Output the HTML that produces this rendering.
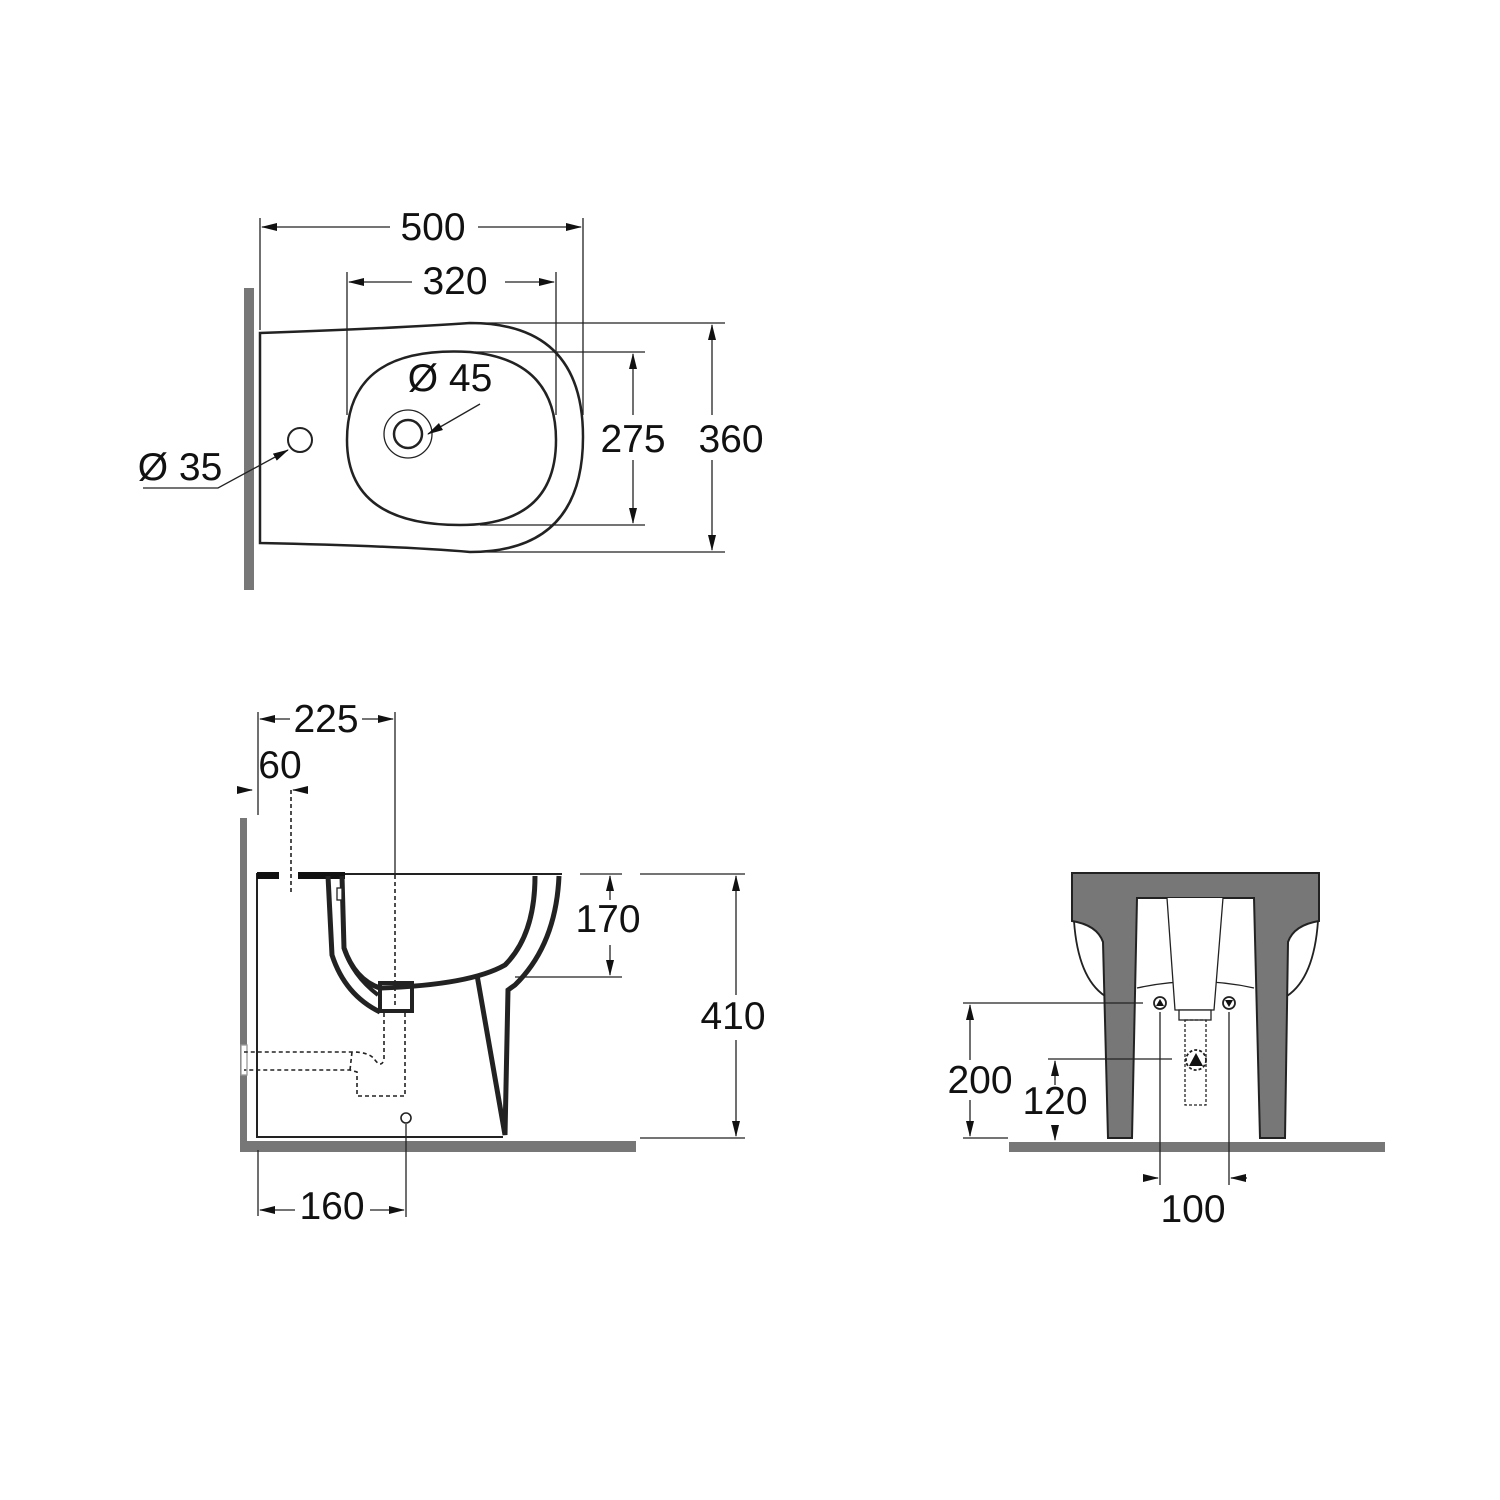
<!DOCTYPE html>
<html><head><style>html,body{margin:0;padding:0;background:#fff}svg{display:block}</style></head>
<body>
<svg width="1500" height="1500" viewBox="0 0 1500 1500" xmlns="http://www.w3.org/2000/svg" font-family="Liberation Sans, sans-serif">
<defs>
<marker id="a" markerWidth="16" markerHeight="8" refX="15" refY="4" orient="auto" markerUnits="userSpaceOnUse"><path d="M0,0 L16,4 L0,8 Z" fill="#111"/></marker>
</defs>
<g fill="none" stroke="#222" stroke-width="1.3">
<!-- TOP VIEW -->
<rect x="244" y="288" width="10" height="302" fill="#777" stroke="none"/>
<path d="M260,333 L260,543 Q400,546 470,552 Q583,552 583,437 Q583,323 470,323 Q400,328 260,333 Z" stroke-width="2.5"/>
<path d="M470,352 Q556,360 556,440 Q556,525 460,525 Q347,525 347,440 Q347,345 470,352 Z" stroke-width="2.5"/>
<circle cx="408" cy="434" r="24"/>
<circle cx="408" cy="434" r="14" stroke-width="2.5"/>
<circle cx="300" cy="440" r="12" stroke-width="2"/>
<path d="M143,488 L218,488 L288,450" marker-end="url(#a)"/>
<path d="M480,404 L428,434" marker-end="url(#a)"/>
<line x1="260" y1="218" x2="260" y2="330"/>
<line x1="583" y1="218" x2="583" y2="415"/>
<line x1="347" y1="272" x2="347" y2="415"/>
<line x1="556" y1="272" x2="556" y2="415"/>
<line x1="390" y1="227" x2="262" y2="227" marker-end="url(#a)"/>
<line x1="478" y1="227" x2="581" y2="227" marker-end="url(#a)"/>
<line x1="412" y1="282" x2="349" y2="282" marker-end="url(#a)"/>
<line x1="505" y1="282" x2="554" y2="282" marker-end="url(#a)"/>
<line x1="470" y1="323" x2="725" y2="323"/>
<line x1="480" y1="552" x2="725" y2="552"/>
<line x1="475" y1="352" x2="645" y2="352"/>
<line x1="480" y1="525" x2="645" y2="525"/>
<line x1="633" y1="415" x2="633" y2="354" marker-end="url(#a)"/>
<line x1="633" y1="460" x2="633" y2="523" marker-end="url(#a)"/>
<line x1="712" y1="415" x2="712" y2="325" marker-end="url(#a)"/>
<line x1="712" y1="460" x2="712" y2="550" marker-end="url(#a)"/>

<!-- SIDE VIEW -->
<rect x="240" y="818" width="7" height="334" fill="#777" stroke="none"/>
<rect x="240" y="1141" width="396" height="11" fill="#777" stroke="none"/>
<rect x="241" y="1045" width="6" height="30" fill="#fff" stroke="#999"/>
<path d="M562,874 L257,874 L257,1137 L503,1137" stroke-width="2"/>
<rect x="257" y="872" width="88" height="7" fill="#111" stroke="none"/>
<rect x="279" y="872" width="19" height="7" fill="#fff" stroke="none"/>
<path d="M328,876 L332,955 Q345,995 380,1012" stroke-width="5"/>
<path d="M342,876 L344,948 Q352,975 378,995" stroke-width="4"/>
<path d="M342,876 L344,948 Q355,980 380,988 Q470,985 505,965 Q535,935 535,876" stroke-width="5"/>
<path d="M559,876 Q556,945 515,985 L508,990 L505,1135 L477,975" stroke-width="5"/>
<rect x="380" y="983" width="32" height="28" stroke-width="4"/>
<rect x="337" y="888" width="5" height="12" fill="#fff" stroke="#222"/>
<g stroke-dasharray="4,3" stroke-width="1.6">
<path d="M384,1013 L384,1060 Q381,1068 375,1060 Q370,1052 352,1052 L244,1052 M405,1013 L405,1096 L357,1096 L357,1072 L350,1070 L244,1070 M352,1052 L350,1070"/>
<line x1="395" y1="875" x2="395" y2="1005"/>
<line x1="291" y1="790" x2="291" y2="895"/>
</g>
<circle cx="406" cy="1118" r="5" stroke-width="1.6"/>
<line x1="395" y1="712" x2="395" y2="875"/>
<line x1="258" y1="712" x2="258" y2="815"/>
<line x1="290" y1="719" x2="260" y2="719" marker-end="url(#a)"/>
<line x1="362" y1="719" x2="393" y2="719" marker-end="url(#a)"/>
<line x1="238" y1="790" x2="252" y2="790" marker-end="url(#a)"/>
<line x1="308" y1="790" x2="293" y2="790" marker-end="url(#a)"/>
<line x1="580" y1="874" x2="622" y2="874"/>
<line x1="515" y1="977" x2="622" y2="977"/>
<line x1="610" y1="900" x2="610" y2="876" marker-end="url(#a)"/>
<line x1="610" y1="945" x2="610" y2="975" marker-end="url(#a)"/>
<line x1="640" y1="874" x2="745" y2="874"/>
<line x1="640" y1="1138" x2="745" y2="1138"/>
<line x1="736" y1="995" x2="736" y2="876" marker-end="url(#a)"/>
<line x1="736" y1="1040" x2="736" y2="1136" marker-end="url(#a)"/>
<line x1="258" y1="1150" x2="258" y2="1216"/>
<line x1="406" y1="1124" x2="406" y2="1217"/>
<line x1="295" y1="1210" x2="260" y2="1210" marker-end="url(#a)"/>
<line x1="370" y1="1210" x2="404" y2="1210" marker-end="url(#a)"/>

<!-- FRONT VIEW -->
<rect x="1009" y="1142" width="376" height="10" fill="#777" stroke="none"/>
<path d="M1072,873 L1319,873 L1319,921 Q1294,925 1288,942 L1285,1138 L1260,1138 L1254,898 L1137,898 L1132,1138 L1108,1138 L1103,942 Q1097,925 1072,921 Z" fill="#777" stroke="#222" stroke-width="2"/>
<path d="M1074,921 Q1078,978 1105,996" stroke-width="1.8"/>
<path d="M1318,921 Q1314,978 1287,996" stroke-width="1.8"/>
<path d="M1137,988 Q1196,975 1254,988"/>
<path d="M1167,898 L1175,1010 L1214,1010 L1223,898" fill="#fff"/>
<rect x="1179" y="1010" width="32" height="10" fill="#fff"/>
<rect x="1185" y="1020" width="21" height="85" stroke-dasharray="3,2"/>
<circle cx="1196" cy="1060" r="10" stroke-dasharray="3,2" stroke-width="1.8"/>
<path d="M1189,1066 L1196,1053 L1203,1066 Z" fill="#111" stroke="none"/>
<circle cx="1160" cy="1003" r="6" stroke-width="1.8"/>
<path d="M1156,1006 L1160,999 L1164,1006 Z" fill="#111" stroke="none"/>
<circle cx="1229" cy="1003" r="6" stroke-width="1.8"/>
<path d="M1225,1000 L1229,1007 L1233,1000 Z" fill="#111" stroke="none"/>
<line x1="963" y1="1003" x2="1143" y2="1003"/>
<line x1="1048" y1="1059" x2="1172" y2="1059"/>
<line x1="963" y1="1138" x2="1008" y2="1138"/>
<line x1="970" y1="1060" x2="970" y2="1005" marker-end="url(#a)"/>
<line x1="970" y1="1100" x2="970" y2="1136" marker-end="url(#a)"/>
<line x1="1055" y1="1085" x2="1055" y2="1061" marker-end="url(#a)"/>
<line x1="1055" y1="1125" x2="1055" y2="1140" marker-end="url(#a)"/>
<line x1="1160" y1="1012" x2="1160" y2="1185"/>
<line x1="1229" y1="1012" x2="1229" y2="1185"/>
<line x1="1145" y1="1178" x2="1158" y2="1178" marker-end="url(#a)"/>
<line x1="1247" y1="1178" x2="1231" y2="1178" marker-end="url(#a)"/>
</g>
<g fill="#111" font-size="39" text-anchor="middle">
<text x="433" y="240">500</text>
<text x="455" y="294">320</text>
<text x="450" y="391">Ø 45</text>
<text x="180" y="480">Ø 35</text>
<text x="633" y="452">275</text>
<text x="731" y="452">360</text>
<text x="326" y="732">225</text>
<text x="280" y="778">60</text>
<text x="608" y="932">170</text>
<text x="733" y="1029">410</text>
<text x="332" y="1219">160</text>
<text x="980" y="1093">200</text>
<text x="1055" y="1114">120</text>
<text x="1193" y="1222">100</text>
</g>
</svg>
</body></html>
